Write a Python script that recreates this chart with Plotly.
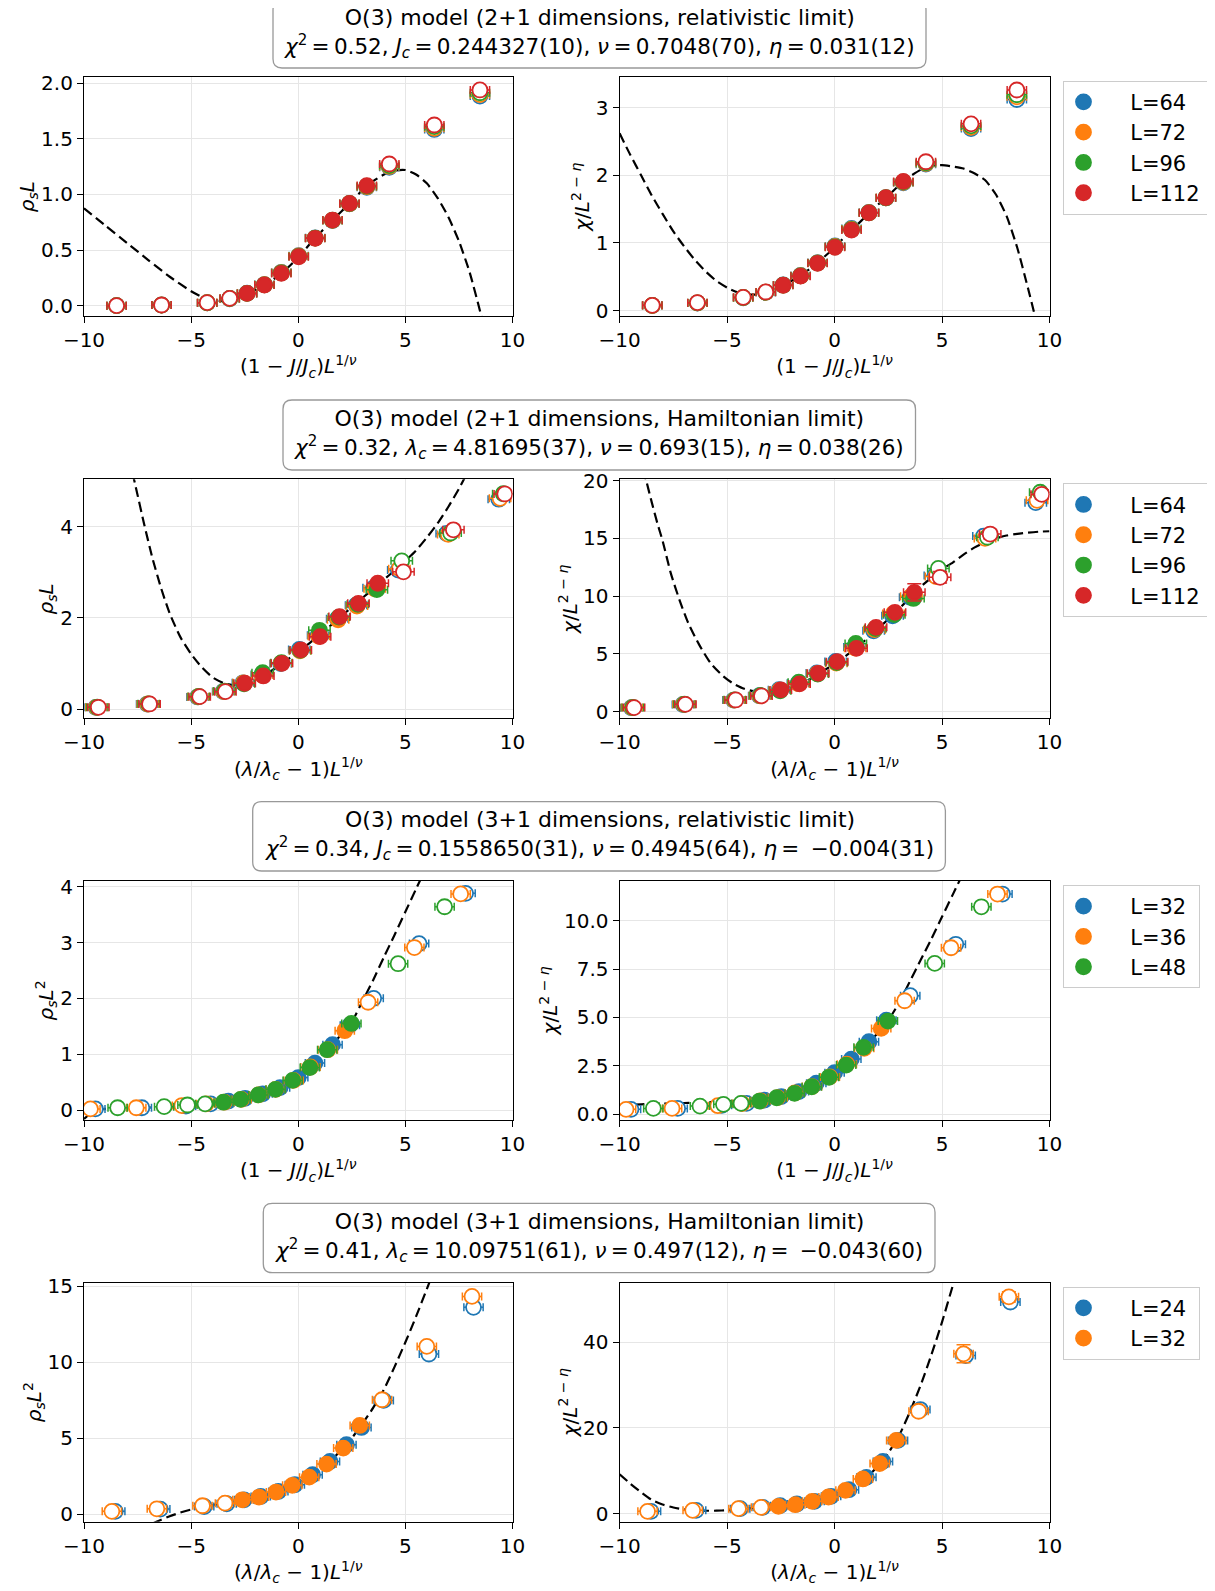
import plotly.graph_objects as go

W, H = 1215, 1591
FONT = "DejaVu Sans"
COLORS = ["#1f77b4", "#ff7f0e", "#2ca02c", "#d62728"]

# ---------------- data ----------------
# Row 1: 2+1 dimensions, relativistic limit
R1_L = ["L=64", "L=72", "L=96", "L=112"]
R1_X = [-8.48, -6.38, -4.25, -3.20, -2.39, -1.58, -0.79, 0.02, 0.79, 1.60, 2.39, 3.20, 4.25, 6.35, 8.48]
R1_RHO = [
    [0.00, 0.005, 0.025, 0.062, 0.112, 0.190, 0.300, 0.450, 0.610, 0.765, 0.915, 1.065, 1.245, 1.585, 1.885],
    [0.00, 0.005, 0.026, 0.063, 0.111, 0.189, 0.298, 0.447, 0.608, 0.767, 0.917, 1.070, 1.252, 1.595, 1.898],
    [0.00, 0.006, 0.026, 0.065, 0.110, 0.187, 0.294, 0.443, 0.607, 0.769, 0.919, 1.075, 1.260, 1.610, 1.915],
    [0.00, 0.006, 0.027, 0.066, 0.110, 0.186, 0.290, 0.440, 0.606, 0.770, 0.920, 1.080, 1.274, 1.625, 1.940],
]
R1_CHI = [
    [0.075, 0.112, 0.190, 0.270, 0.380, 0.520, 0.710, 0.955, 1.215, 1.450, 1.665, 1.890, 2.165, 2.690, 3.120],
    [0.076, 0.114, 0.192, 0.272, 0.378, 0.516, 0.706, 0.948, 1.205, 1.447, 1.667, 1.895, 2.175, 2.710, 3.160],
    [0.078, 0.116, 0.195, 0.274, 0.376, 0.513, 0.703, 0.942, 1.198, 1.446, 1.668, 1.902, 2.185, 2.730, 3.190],
    [0.079, 0.118, 0.197, 0.276, 0.375, 0.510, 0.700, 0.936, 1.190, 1.445, 1.670, 1.910, 2.200, 2.760, 3.260],
]
R1_FIT = [-2.6, 3.5]
R1_CURVE_RHO_X = [-10, -9, -8, -7, -6, -5, -4.5, -4, -3.5, -3, -2.5, -2, -1.5, -1, -0.5, 0, 0.5, 1, 1.5, 2,
                  2.5, 3, 3.5, 4, 4.5, 5, 5.5, 6, 6.5, 7, 7.5, 8, 8.5, 8.7]
R1_CURVE_RHO_Y = [0.876, 0.72, 0.565, 0.41, 0.26, 0.13, 0.08, 0.048, 0.042, 0.063, 0.10, 0.142, 0.195, 0.26,
                  0.34, 0.435, 0.545, 0.65, 0.75, 0.845, 0.94, 1.04, 1.12, 1.18, 1.215, 1.22, 1.18, 1.10,
                  0.97, 0.80, 0.58, 0.30, -0.06, -0.22]
R1_CURVE_CHI_X = [-10, -9.5, -9, -8.5, -8, -7.5, -7, -6.5, -6, -5.5, -5, -4.5, -4, -3.5, -3, -2.5, -2, -1.5,
                  -1, -0.5, 0, 0.5, 1, 1.5, 2, 2.5, 3, 3.5, 4, 4.5, 5, 5.5, 6, 6.5, 7, 7.5, 8, 8.5, 9, 9.3, 9.5]
R1_CURVE_CHI_Y = [2.62, 2.30, 2.00, 1.70, 1.43, 1.17, 0.95, 0.75, 0.58, 0.44, 0.34, 0.27, 0.24, 0.24, 0.28,
                  0.35, 0.44, 0.54, 0.65, 0.79, 0.93, 1.10, 1.25, 1.41, 1.56, 1.70, 1.85, 1.98, 2.08, 2.14,
                  2.15, 2.13, 2.10, 2.03, 1.93, 1.72, 1.40, 0.93, 0.33, -0.05, -0.35]

# Row 2: 2+1 dimensions, Hamiltonian limit
R2_L = ["L=64", "L=72", "L=96", "L=112"]
R2_X = [
    [-9.45, -7.05, -4.70, -3.50, -2.58, -1.70, -0.82, 0.05, 0.93, 1.82, 2.70, 3.52, 4.67, 6.93, 9.36],
    [-9.42, -7.02, -4.67, -3.47, -2.55, -1.68, -0.80, 0.08, 0.96, 1.86, 2.74, 3.57, 4.72, 7.00, 9.42],
    [-9.38, -6.98, -4.64, -3.44, -2.53, -1.66, -0.78, 0.10, 0.99, 1.90, 2.78, 3.67, 4.83, 7.11, 9.57],
    [-9.33, -6.94, -4.60, -3.40, -2.50, -1.63, -0.76, 0.12, 1.02, 1.93, 2.81, 3.71, 4.91, 7.24, 9.64],
]
R2_RHO = [
    [0.043, 0.115, 0.270, 0.390, 0.580, 0.760, 1.000, 1.310, 1.620, 1.980, 2.280, 2.660, 3.050, 3.850, 4.600],
    [0.044, 0.116, 0.275, 0.390, 0.580, 0.750, 1.010, 1.280, 1.600, 1.960, 2.260, 2.640, 3.080, 3.830, 4.620],
    [0.045, 0.120, 0.280, 0.400, 0.560, 0.800, 1.020, 1.290, 1.730, 2.020, 2.300, 2.620, 3.250, 3.860, 4.720],
    [0.044, 0.117, 0.277, 0.387, 0.570, 0.730, 1.007, 1.300, 1.590, 2.030, 2.320, 2.760, 3.010, 3.930, 4.715],
]
R2_CHI = [
    [0.34, 0.62, 1.00, 1.38, 1.90, 2.45, 3.35, 4.35, 5.60, 7.00, 8.30, 9.90, 11.80, 15.20, 18.10],
    [0.35, 0.63, 1.00, 1.37, 1.86, 2.42, 3.30, 4.20, 5.50, 7.10, 8.50, 10.00, 11.70, 15.00, 18.30],
    [0.36, 0.64, 1.02, 1.40, 1.80, 2.55, 3.25, 4.25, 5.90, 7.20, 8.40, 9.80, 12.40, 15.10, 19.00],
    [0.35, 0.63, 1.01, 1.36, 1.88, 2.40, 3.32, 4.33, 5.48, 7.30, 8.60, 10.33, 11.63, 15.38, 18.82],
]
R2_CHI_ERR_L112 = [0.2, 0.2, 0.2, 0.2, 0.2, 0.2, 0.2, 0.2, 0.2, 0.2, 0.3, 0.75, 0.5, 0.4, 0.4]
R2_FIT = [-3.0, 4.0]
R2_CURVE_RHO_X = [-7.9, -7.6, -7.2, -6.8, -6.4, -6.0, -5.5, -5.0, -4.5, -4.0, -3.5, -3.0, -2.5, -2.0, -1.5,
                  -1.0, -0.5, 0, 0.5, 1.0, 1.5, 2.0, 2.5, 3.0, 3.5, 4.0, 4.5, 5.0, 5.5, 6.0, 6.5, 7.0, 7.5,
                  7.8, 8.0]
R2_CURVE_RHO_Y = [5.5, 4.9, 4.07, 3.30, 2.65, 2.10, 1.58, 1.21, 0.92, 0.70, 0.58, 0.53, 0.56, 0.65, 0.77,
                  0.92, 1.09, 1.26, 1.44, 1.63, 1.83, 2.03, 2.24, 2.44, 2.64, 2.84, 3.04, 3.25, 3.48, 3.76,
                  4.07, 4.43, 4.83, 5.10, 5.30]
R2_CURVE_CHI_X = [-8.9, -8.76, -8.5, -8.24, -8.0, -7.62, -7.2, -6.8, -6.3, -5.76, -5.2, -4.73, -4.2, -3.7,
                  -3.2, -2.5, -2.0, -1.5, -1.0, -0.5, 0, 0.5, 1.0, 1.5, 2.0, 2.5, 3.0, 3.5, 4.0, 4.5, 5.0,
                  5.5, 6.0, 6.5, 7.0, 7.5, 8.0, 8.5, 9.0, 9.5, 10.0]
R2_CURVE_CHI_Y = [21.0, 20.0, 18.1, 16.3, 14.8, 12.0, 9.6, 7.65, 5.8, 4.18, 3.1, 2.45, 1.98, 1.73, 1.72,
                  1.90, 2.15, 2.50, 2.95, 3.55, 4.15, 4.80, 5.50, 6.30, 7.15, 8.00, 8.90, 9.85, 10.80,
                  11.60, 12.35, 12.90, 13.60, 14.20, 14.65, 15.00, 15.25, 15.40, 15.50, 15.58, 15.62]

# Row 3: 3+1 dimensions, relativistic limit
R3_L = ["L=32", "L=36", "L=48"]
R3_X = [
    [-9.47, -7.30, -5.24, -4.09, -3.26, -2.48, -1.66, -0.85, 0.00, 0.78, 1.60, 2.41, 3.52, 5.64, 7.81],
    [-9.70, -7.56, -5.43, -4.30, -3.45, -2.65, -1.85, -1.05, -0.22, 0.57, 1.38, 2.17, 3.26, 5.42, 7.58],
    [-8.43, -6.26, -5.17, -4.35, -3.49, -2.69, -1.86, -1.06, -0.26, 0.54, 1.35, 2.48, 4.66, 6.83],
]
R3_RHO = [
    [0.02, 0.04, 0.07, 0.11, 0.16, 0.21, 0.29, 0.40, 0.58, 0.84, 1.17, 1.52, 2.00, 2.98, 3.88],
    [0.02, 0.04, 0.08, 0.11, 0.14, 0.19, 0.27, 0.37, 0.53, 0.77, 1.08, 1.42, 1.93, 2.91, 3.87],
    [0.04, 0.06, 0.09, 0.11, 0.14, 0.19, 0.27, 0.37, 0.53, 0.76, 1.08, 1.55, 2.62, 3.64],
]
R3_CHI = [
    [0.24, 0.29, 0.45, 0.55, 0.72, 0.90, 1.16, 1.59, 2.14, 2.84, 3.74, 4.85, 6.12, 8.78, 11.38],
    [0.24, 0.29, 0.43, 0.54, 0.68, 0.85, 1.09, 1.42, 1.92, 2.58, 3.40, 4.43, 5.86, 8.60, 11.38],
    [0.29, 0.41, 0.50, 0.55, 0.67, 0.84, 1.07, 1.41, 1.90, 2.53, 3.45, 4.81, 7.79, 10.72],
]
R3_FIT = [-3.6, 2.6]
R3_CURVE_RHO_X = [-10, -9.7, -9.4, -9.0, -8.0, -7.0, -6.0, -5.0, -4.0, -3.5, -3.0, -2.5, -2.0, -1.5, -1.0,
                  -0.5, 0.0, 0.5, 1.0, 1.5, 2.0, 2.5, 3.0, 3.5, 4.0, 4.5, 5.0, 5.5, 6.0]
R3_CURVE_RHO_Y = [-0.16, -0.06, 0.0, 0.02, 0.035, 0.045, 0.055, 0.075, 0.11, 0.135, 0.17, 0.21, 0.26, 0.32,
                  0.38, 0.47, 0.58, 0.73, 0.92, 1.13, 1.35, 1.58, 1.95, 2.33, 2.74, 3.14, 3.55, 3.96, 4.37]
R3_CURVE_CHI_X = [-10, -9, -8, -7, -6, -5, -4, -3.5, -3, -2.5, -2, -1.5, -1, -0.5, 0, 0.5, 1, 1.5, 2, 2.5,
                  3, 3.5, 4, 4.5, 5, 5.5, 6]
R3_CURVE_CHI_Y = [0.46, 0.50, 0.54, 0.57, 0.61, 0.66, 0.73, 0.78, 0.85, 0.93, 1.04, 1.20, 1.40, 1.68, 2.05,
                  2.52, 3.02, 3.58, 4.18, 4.85, 5.75, 6.85, 7.95, 9.05, 10.2, 11.35, 12.5]

# Row 4: 3+1 dimensions, Hamiltonian limit
R4_L = ["L=24", "L=32"]
R4_X = [
    [-8.54, -6.44, -4.39, -3.34, -2.53, -1.75, -0.93, -0.16, 0.67, 1.48, 2.25, 2.95, 3.99, 6.10, 8.18],
    [-8.70, -6.60, -4.47, -3.42, -2.61, -1.83, -1.04, -0.28, 0.51, 1.32, 2.10, 2.87, 3.91, 6.00, 8.11],
]
R4_RHO = [
    [0.18, 0.33, 0.50, 0.68, 0.94, 1.16, 1.49, 1.93, 2.59, 3.46, 4.56, 5.70, 7.48, 10.53, 13.60],
    [0.18, 0.35, 0.55, 0.72, 0.94, 1.12, 1.45, 1.89, 2.43, 3.29, 4.34, 5.83, 7.52, 11.03, 14.32],
]
R4_CHI = [
    [0.54, 0.78, 1.17, 1.48, 1.87, 2.26, 2.88, 4.05, 5.60, 8.48, 12.20, 17.10, 24.30, 36.90, 49.40],
    [0.54, 0.78, 1.17, 1.48, 1.71, 2.10, 2.88, 3.89, 5.45, 8.10, 11.70, 17.10, 23.90, 37.30, 50.60],
]
R4_CHI_ERR_L32 = [0.3, 0.3, 0.3, 0.3, 0.3, 0.3, 0.3, 0.3, 0.3, 0.4, 0.6, 0.8, 1.0, 2.1, 1.2]
R4_FIT = [-3.0, 3.2]
R4_CURVE_RHO_X = [-6.8, -6.5, -6.0, -5.5, -5.0, -4.5, -4.0, -3.5, -3.0, -2.5, -2.0, -1.5, -1.0, -0.5, 0.0,
                  0.5, 1.0, 1.5, 2.0, 2.5, 3.0, 3.5, 4.0, 4.5, 5.0, 5.5, 6.0, 6.3]
R4_CURVE_RHO_Y = [-0.62, -0.43, -0.14, 0.10, 0.30, 0.46, 0.60, 0.72, 0.82, 0.94, 1.07, 1.24, 1.45, 1.70,
                  2.02, 2.42, 2.90, 3.50, 4.20, 5.00, 5.95, 7.00, 8.20, 9.70, 11.30, 13.00, 14.80, 15.90]
R4_CURVE_CHI_X = [-10, -9.5, -9.0, -8.5, -8.0, -7.5, -7.0, -6.5, -6.0, -5.5, -5.0, -4.5, -4.0, -3.5, -3.0,
                  -2.5, -2.0, -1.5, -1.0, -0.5, 0.0, 0.5, 1.0, 1.5, 2.0, 2.5, 3.0, 3.5, 4.0, 4.5, 5.0, 5.5,
                  5.8]
R4_CURVE_CHI_Y = [9.2, 7.0, 5.0, 3.2, 2.15, 1.45, 1.02, 0.78, 0.68, 0.70, 0.80, 1.00, 1.22, 1.45, 1.68,
                  1.90, 2.15, 2.45, 2.85, 3.40, 4.15, 5.20, 6.65, 8.50, 11.0, 14.2, 18.2, 23.7, 29.9,
                  37.0, 44.7, 53.2, 58.0]

EQ = "\u2009=\u2009"
TITLES = [
    ("O(3) model (2+1 dimensions, relativistic limit)",
     "<i>χ</i><sup>2</sup>" + EQ + "0.52, <i>J</i><sub><i>c</i></sub>" + EQ + "0.244327(10), <i>ν</i>" + EQ +
     "0.7048(70), <i>η</i>" + EQ + "0.031(12)"),
    ("O(3) model (2+1 dimensions, Hamiltonian limit)",
     "<i>χ</i><sup>2</sup>" + EQ + "0.32, <i>λ</i><sub><i>c</i></sub>" + EQ + "4.81695(37), <i>ν</i>" + EQ +
     "0.693(15), <i>η</i>" + EQ + "0.038(26)"),
    ("O(3) model (3+1 dimensions, relativistic limit)",
     "<i>χ</i><sup>2</sup>" + EQ + "0.34, <i>J</i><sub><i>c</i></sub>" + EQ + "0.1558650(31), <i>ν</i>" + EQ +
     "0.4945(64), <i>η</i>" + EQ + " −0.004(31)"),
    ("O(3) model (3+1 dimensions, Hamiltonian limit)",
     "<i>χ</i><sup>2</sup>" + EQ + "0.41, <i>λ</i><sub><i>c</i></sub>" + EQ + "10.09751(61), <i>ν</i>" + EQ +
     "0.497(12), <i>η</i>" + EQ + " −0.043(60)"),
]
XLAB_J = "(1 − <i>J</i>/<i>J</i><sub><i>c</i></sub>)<i>L</i><sup>1/<i>ν</i></sup>"
XLAB_LAM = "(<i>λ</i>/<i>λ</i><sub><i>c</i></sub> − 1)<i>L</i><sup>1/<i>ν</i></sup>"
YLAB_RHO1 = "<i>ρ</i><sub><i>s</i></sub><i>L</i>"
YLAB_RHO2 = "<i>ρ</i><sub><i>s</i></sub><i>L</i><sup>2</sup>"
YLAB_CHI = "<i>χ</i>/<i>L</i><sup>2 − <i>η</i></sup>"

# ---------------- layout geometry (pixels in the final picture) ----------------
OFF = 8  # page body margin of the html page
COL_X = [(84.0, 512.5), (619.6, 1049.5)]
ROW_Y = [(77.3, 316.0), (479.3, 718.3), (880.7, 1120.0), (1282.7, 1521.7)]
TITLE_BOX = [(273, 1, 926, 68), (283, 400, 915.5, 470), (252.7, 801.7, 945.4, 871), (263.3, 1203.3, 935, 1272.7)]
LEGEND_TOP = [80.7, 483.3, 885.0, 1286.7]
LEGEND_LEFT = 1062.5


def px_x(x):
    return (x - OFF) / W


def px_y(y):
    return 1 - (y - OFF) / H


fig = go.Figure()


def subset(vals, idx):
    return [vals[i] for i in idx]


def add_panel(pid, xs_list, ys_list, xerr, yerr, fit, cx, cy, names, legend_name, showleg):
    sfx = "" if pid == 1 else str(pid)
    fig.add_trace(go.Scatter(x=cx, y=cy, mode="lines", line=dict(color="black", width=2.2, dash="10px,5px",
                                                                     shape="spline", smoothing=0.6),
                             xaxis="x" + sfx, yaxis="y" + sfx, showlegend=False, hoverinfo="skip"))
    for k, (xs, ys) in enumerate(zip(xs_list, ys_list)):
        col = COLORS[k]
        ye = yerr[k]
        inside = [i for i, v in enumerate(xs) if fit[0] <= v <= fit[1]]
        outside = [i for i, v in enumerate(xs) if not (fit[0] <= v <= fit[1])]
        for idx, filled in ((outside, False), (inside, True)):
            if isinstance(ye, list):
                ey = dict(type="data", array=subset(ye, idx), color=col, thickness=1.5, width=7)
            else:
                ey = dict(type="constant", value=ye, color=col, thickness=1.5, width=7)
            fig.add_trace(go.Scatter(
                x=subset(xs, idx), y=subset(ys, idx), mode="markers",
                marker=dict(size=15, color=col if filled else "white", line=dict(color=col, width=1.8)),
                error_x=dict(type="constant", value=xerr, color=col, thickness=1.5, width=4),
                error_y=ey,
                xaxis="x" + sfx, yaxis="y" + sfx,
                name="\u00a0\u00a0\u00a0\u00a0" + names[k] + "\u00a0",
                legend=legend_name, showlegend=(showleg and filled), hoverinfo="skip"))


# Row 1
add_panel(1, [R1_X] * 4, R1_RHO, 0.45, [0.01] * 4, R1_FIT, R1_CURVE_RHO_X, R1_CURVE_RHO_Y, R1_L, "legend", True)
add_panel(2, [R1_X] * 4, R1_CHI, 0.45, [0.015] * 4, R1_FIT, R1_CURVE_CHI_X, R1_CURVE_CHI_Y, R1_L, "legend", False)
# Row 2
add_panel(3, R2_X, R2_RHO, 0.5, [0.06] * 4, R2_FIT, R2_CURVE_RHO_X, R2_CURVE_RHO_Y, R2_L, "legend2", True)
add_panel(4, R2_X, R2_CHI, 0.5, [0.2, 0.2, 0.2, R2_CHI_ERR_L112], R2_FIT, R2_CURVE_CHI_X, R2_CURVE_CHI_Y,
          R2_L, "legend2", False)
# Row 3
add_panel(5, R3_X, R3_RHO, 0.45, [0.03] * 3, R3_FIT, R3_CURVE_RHO_X, R3_CURVE_RHO_Y, R3_L, "legend3", True)
add_panel(6, R3_X, R3_CHI, 0.45, [0.1] * 3, R3_FIT, R3_CURVE_CHI_X, R3_CURVE_CHI_Y, R3_L, "legend3", False)
# Row 4
add_panel(7, R4_X, R4_RHO, 0.45, [0.15] * 2, R4_FIT, R4_CURVE_RHO_X, R4_CURVE_RHO_Y, R4_L, "legend4", True)
add_panel(8, R4_X, R4_CHI, 0.45, [0.4, R4_CHI_ERR_L32], R4_FIT, R4_CURVE_CHI_X, R4_CURVE_CHI_Y, R4_L,
          "legend4", False)

YRANGES = [[-0.093, 2.054], [-0.079, 3.448], [-0.197, 5.036], [-0.577, 20.12],
           [-0.179, 4.107], [-0.31, 12.07], [-0.5, 15.22], [-1.87, 53.9]]
YDTICK = [0.5, 1, 2, 5, 1, 2.5, 5, 20]
YFMT = [".1f", "", "", "", "", ".1f", "", ""]
YLABELS = [YLAB_RHO1, YLAB_CHI, YLAB_RHO1, YLAB_CHI, YLAB_RHO2, YLAB_CHI, YLAB_RHO2, YLAB_CHI]
XLABELS = [XLAB_J, XLAB_LAM, XLAB_J, XLAB_LAM]

tickfont = dict(family=FONT, size=20, color="black")
layout = dict(template="none", width=W, height=H, margin=dict(l=0, r=0, t=0, b=0, autoexpand=False),
              paper_bgcolor="white", plot_bgcolor="white", font=dict(family=FONT, size=20, color="black"))
for r in range(4):
    for c in range(2):
        pid = r * 2 + c + 1
        sfx = "" if pid == 1 else str(pid)
        x0, x1 = COL_X[c]
        y0, y1 = ROW_Y[r]
        common = dict(showline=True, linecolor="black", linewidth=1.2, mirror=True, ticks="outside",
                      ticklen=6, tickwidth=1.2, tickcolor="black", showgrid=True, gridcolor="#e6e6e6",
                      gridwidth=1.4, zeroline=False, tickfont=tickfont, automargin=False)
        layout["xaxis" + sfx] = dict(domain=[px_x(x0), px_x(x1)], anchor="y" + sfx, range=[-10, 10],
                                     tickmode="array", tickvals=[-10, -5, 0, 5, 10],
                                     title=dict(text=XLABELS[r], font=dict(family=FONT, size=20),
                                                standoff=6), **common)
        layout["yaxis" + sfx] = dict(domain=[px_y(y1), px_y(y0)], anchor="x" + sfx,
                                     range=YRANGES[pid - 1], dtick=YDTICK[pid - 1], tick0=0,
                                     tickformat=YFMT[pid - 1],
                                     title=dict(text=YLABELS[pid - 1], font=dict(family=FONT, size=20),
                                                standoff=0), **common)

for r in range(4):
    name = "legend" if r == 0 else "legend%d" % (r + 1)
    layout[name] = dict(x=px_x(LEGEND_LEFT), y=px_y(LEGEND_TOP[r]), xanchor="left", yanchor="top",
                        bordercolor="#cccccc", borderwidth=1, bgcolor="rgba(255,255,255,0.8)",
                        font=dict(family=FONT, size=21, color="black"), itemsizing="trace")


def rounded_path(x0, y0, x1, y1, r=9):
    def P(x, y):
        return "%.5f,%.5f" % (px_x(x), px_y(y))
    return ("M " + P(x0 + r, y0) + " L " + P(x1 - r, y0) + " Q " + P(x1, y0) + " " + P(x1, y0 + r) +
            " L " + P(x1, y1 - r) + " Q " + P(x1, y1) + " " + P(x1 - r, y1) +
            " L " + P(x0 + r, y1) + " Q " + P(x0, y1) + " " + P(x0, y1 - r) +
            " L " + P(x0, y0 + r) + " Q " + P(x0, y0) + " " + P(x0 + r, y0) + " Z")


shapes, annotations = [], []
for r in range(4):
    bx0, by0, bx1, by1 = TITLE_BOX[r]
    shapes.append(dict(type="path", xref="paper", yref="paper", path=rounded_path(bx0, by0, bx1, by1),
                       line=dict(color="#999999", width=1.3), fillcolor="white", layer="above"))
    annotations.append(dict(xref="paper", yref="paper", x=px_x((bx0 + bx1) / 2),
                            y=px_y((by0 + by1) / 2 - 1), xanchor="center", yanchor="middle",
                            showarrow=False, align="center",
                            text=TITLES[r][0] + "<br><span style='font-size:21.5px'>" + TITLES[r][1] + "</span>",
                            font=dict(family=FONT, size=22, color="black")))
layout["shapes"] = shapes
layout["annotations"] = annotations

fig.update_layout(**layout)
fig.write_html("out.html")
